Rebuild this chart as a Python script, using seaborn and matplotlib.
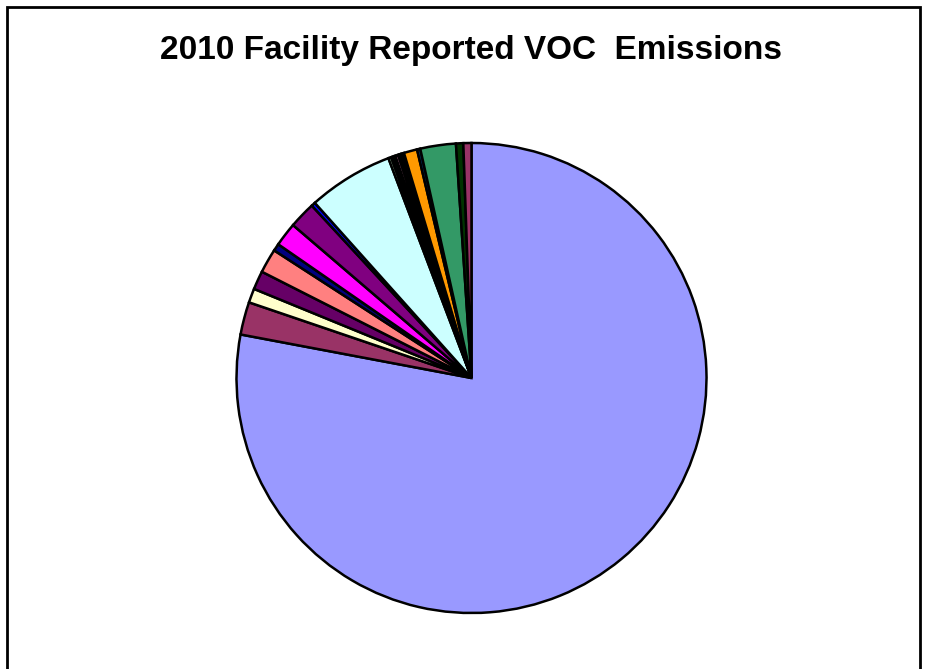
import matplotlib
matplotlib.use("Agg")
import matplotlib.pyplot as plt
import seaborn as sns
from matplotlib.patches import Rectangle

# slice shares, clockwise from 12 o'clock
emissions = [280.6, 8.1, 3.5, 4.6, 6.0, 1.8, 5.9, 6.6, 1.0, 21.1,
             0.7, 0.6, 0.5, 0.7, 0.5, 0.5, 0.5,
             3.3, 0.8, 8.8, 1.8, 2.0]
colors = ['#9999FF', '#993366', '#FFFFCC', '#660066', '#FF8080', '#000080',
          '#FF00FF', '#800080', '#0000FF', '#CCFFFF',
          '#CCFFCC', '#FFFF99', '#99CCFF', '#FF99CC', '#CC99FF', '#33CCCC', '#FFCC00',
          '#FF9900', '#003366', '#339966', '#003300', '#993366']
title = "2010 Facility Reported VOC  Emissions"

sns.set_style("white")
plt.rcParams['font.family'] = ['Liberation Sans', 'DejaVu Sans']

fig = plt.figure(figsize=(9.25, 6.69), dpi=100)
ax = fig.add_axes([0, 0, 1, 1])

ax.pie(emissions, colors=colors, startangle=90, counterclock=False,
       center=(471.5, 669 - 378), radius=235, frame=True,
       wedgeprops={'edgecolor': 'black', 'linewidth': 1.8})
ax.set_xlim(0, 925)
ax.set_ylim(0, 669)
ax.axis('off')

# chart-area border, open at the bottom
fig.patches.append(Rectangle((7 / 925, -0.1), (920 - 7) / 925, (669 - 7) / 669 + 0.1,
                             transform=fig.transFigure, fill=False,
                             edgecolor='black', linewidth=2))

fig.text(471.5 / 925, 1 - 50 / 669, title, ha='center', va='center',
         fontsize=24, fontweight='bold', color='black')

fig.savefig("out.png", dpi=100)
